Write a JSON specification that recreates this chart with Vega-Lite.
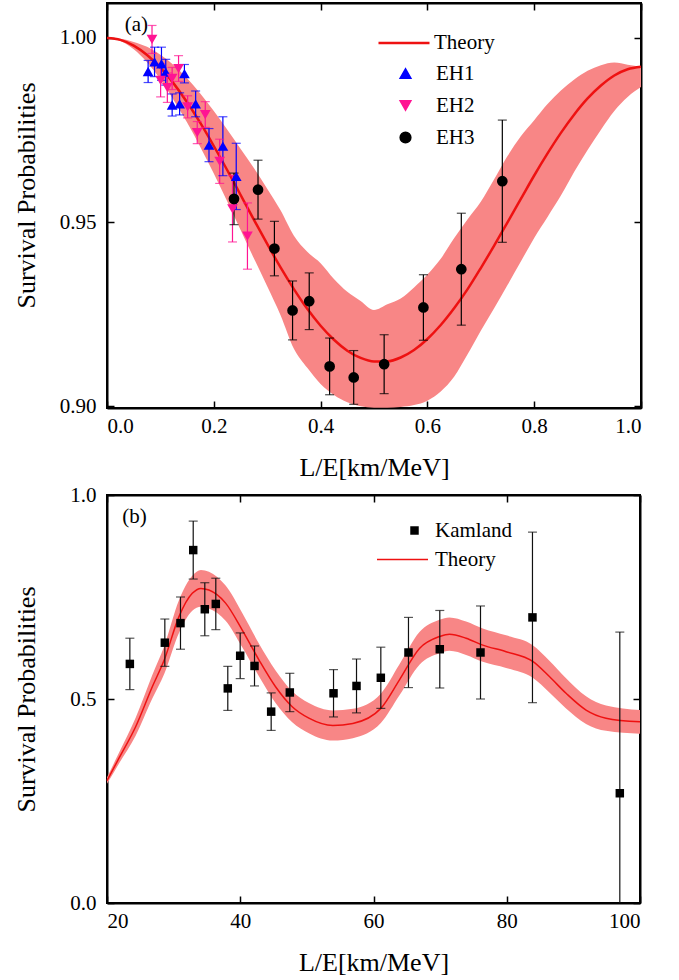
{
  "$schema": "https://vega.github.io/schema/vega-lite/v6.json",
  "background": "white",
  "padding": {"left": 12, "top": 1, "right": 5, "bottom": 2},
  "spacing": 2,
  "resolve": {
    "scale": {"color": "independent", "shape": "independent", "stroke": "independent"},
    "legend": {"color": "independent", "shape": "independent", "stroke": "independent"}
  },
  "config": {
    "view": {"stroke": "black", "strokeWidth": 2},
    "font": "Liberation Serif",
    "axis": {
      "grid": false,
      "domainColor": "black",
      "domainWidth": 2,
      "tickColor": "black",
      "tickWidth": 1.5,
      "tickSize": -7,
      "labelFont": "Liberation Serif",
      "labelFontSize": 21,
      "labelColor": "black",
      "labelPadding": 18,
      "titleFont": "Liberation Serif",
      "titleFontSize": 26,
      "titleFontWeight": "normal",
      "titleColor": "black"
    },
    "legend": {"labelFont": "Liberation Serif", "labelFontSize": 21, "labelColor": "black"}
  },
  "datasets": {
    "curveA": [
      {"x": 0, "p": 1.0, "lo": 1.0, "hi": 1.0},
      {"x": 0.025, "p": 0.99948, "lo": 0.99918, "hi": 0.99978},
      {"x": 0.05, "p": 0.99793, "lo": 0.99693, "hi": 0.99893},
      {"x": 0.075, "p": 0.99539, "lo": 0.99339, "hi": 0.99759},
      {"x": 0.1, "p": 0.99192, "lo": 0.98872, "hi": 0.99542},
      {"x": 0.125, "p": 0.9876, "lo": 0.9831, "hi": 0.9926},
      {"x": 0.15, "p": 0.98254, "lo": 0.97704, "hi": 0.98904},
      {"x": 0.175, "p": 0.97685, "lo": 0.97035, "hi": 0.98485},
      {"x": 0.2, "p": 0.97066, "lo": 0.96316, "hi": 0.98016},
      {"x": 0.225, "p": 0.96414, "lo": 0.95564, "hi": 0.97514},
      {"x": 0.25, "p": 0.95742, "lo": 0.94792, "hi": 0.96992},
      {"x": 0.275, "p": 0.95067, "lo": 0.94017, "hi": 0.96467},
      {"x": 0.3, "p": 0.94405, "lo": 0.93255, "hi": 0.95905},
      {"x": 0.325, "p": 0.93769, "lo": 0.92469, "hi": 0.95319},
      {"x": 0.35, "p": 0.9318, "lo": 0.9156, "hi": 0.9463},
      {"x": 0.375, "p": 0.92643, "lo": 0.91043, "hi": 0.94193},
      {"x": 0.4, "p": 0.92184, "lo": 0.90604, "hi": 0.93884},
      {"x": 0.425, "p": 0.91803, "lo": 0.90303, "hi": 0.93453},
      {"x": 0.45, "p": 0.91507, "lo": 0.90107, "hi": 0.93107},
      {"x": 0.475, "p": 0.91309, "lo": 0.9, "hi": 0.92859},
      {"x": 0.5, "p": 0.91212, "lo": 0.8996, "hi": 0.92612},
      {"x": 0.525, "p": 0.91217, "lo": 0.8996, "hi": 0.92767},
      {"x": 0.55, "p": 0.91321, "lo": 0.8998, "hi": 0.92921},
      {"x": 0.575, "p": 0.91525, "lo": 0.9003, "hi": 0.93225},
      {"x": 0.6, "p": 0.91825, "lo": 0.9015, "hi": 0.93575},
      {"x": 0.625, "p": 0.92204, "lo": 0.904, "hi": 0.94004},
      {"x": 0.65, "p": 0.92658, "lo": 0.908, "hi": 0.94558},
      {"x": 0.675, "p": 0.93171, "lo": 0.914, "hi": 0.95071},
      {"x": 0.7, "p": 0.93751, "lo": 0.9205, "hi": 0.95551},
      {"x": 0.725, "p": 0.94361, "lo": 0.9266, "hi": 0.96161},
      {"x": 0.75, "p": 0.94992, "lo": 0.9329, "hi": 0.96792},
      {"x": 0.775, "p": 0.95628, "lo": 0.9393, "hi": 0.97328},
      {"x": 0.8, "p": 0.96265, "lo": 0.9457, "hi": 0.97765},
      {"x": 0.825, "p": 0.96864, "lo": 0.9514, "hi": 0.98204},
      {"x": 0.85, "p": 0.97422, "lo": 0.9572, "hi": 0.98572},
      {"x": 0.875, "p": 0.97922, "lo": 0.9637, "hi": 0.98872},
      {"x": 0.9, "p": 0.98357, "lo": 0.9696, "hi": 0.99107},
      {"x": 0.925, "p": 0.98709, "lo": 0.9751, "hi": 0.99259},
      {"x": 0.95, "p": 0.98982, "lo": 0.9802, "hi": 0.99332},
      {"x": 0.975, "p": 0.99152, "lo": 0.984, "hi": 0.99272},
      {"x": 1.0, "p": 0.9922, "lo": 0.9867, "hi": 0.9922}
    ],
    "ehA": [
      {"series": "EH1", "x": 0.077, "y": 0.9909, "lo": 0.9879, "hi": 0.9939},
      {"series": "EH1", "x": 0.089, "y": 0.9935, "lo": 0.9895, "hi": 0.9975},
      {"series": "EH1", "x": 0.102, "y": 0.993, "lo": 0.9885, "hi": 0.9975},
      {"series": "EH1", "x": 0.11, "y": 0.9907, "lo": 0.9872, "hi": 0.9942},
      {"series": "EH1", "x": 0.145, "y": 0.9903, "lo": 0.9878, "hi": 0.9928},
      {"series": "EH1", "x": 0.122, "y": 0.9818, "lo": 0.9788, "hi": 0.9848},
      {"series": "EH1", "x": 0.136, "y": 0.9821, "lo": 0.9791, "hi": 0.9851},
      {"series": "EH1", "x": 0.166, "y": 0.9821, "lo": 0.9786, "hi": 0.9856},
      {"series": "EH1", "x": 0.191, "y": 0.9709, "lo": 0.9664, "hi": 0.9754},
      {"series": "EH1", "x": 0.217, "y": 0.9706, "lo": 0.9626, "hi": 0.9786},
      {"series": "EH1", "x": 0.242, "y": 0.9624, "lo": 0.9534, "hi": 0.9714},
      {"series": "EH2", "x": 0.0843, "y": 0.9996, "lo": 0.9958, "hi": 1.0034},
      {"series": "EH2", "x": 0.1004, "y": 0.9885, "lo": 0.984, "hi": 0.993},
      {"series": "EH2", "x": 0.113, "y": 0.9865, "lo": 0.9825, "hi": 0.9905},
      {"series": "EH2", "x": 0.122, "y": 0.989, "lo": 0.986, "hi": 0.992},
      {"series": "EH2", "x": 0.134, "y": 0.9917, "lo": 0.9882, "hi": 0.9952},
      {"series": "EH2", "x": 0.151, "y": 0.9813, "lo": 0.9783, "hi": 0.9843},
      {"series": "EH2", "x": 0.184, "y": 0.9792, "lo": 0.9757, "hi": 0.9827},
      {"series": "EH2", "x": 0.169, "y": 0.9743, "lo": 0.9713, "hi": 0.9773},
      {"series": "EH2", "x": 0.211, "y": 0.9665, "lo": 0.9605, "hi": 0.9725},
      {"series": "EH2", "x": 0.235, "y": 0.9536, "lo": 0.9446, "hi": 0.9626},
      {"series": "EH2", "x": 0.263, "y": 0.9462, "lo": 0.9372, "hi": 0.9552},
      {"series": "EH3", "x": 0.2378, "y": 0.9563, "lo": 0.9493, "hi": 0.9633},
      {"series": "EH3", "x": 0.2828, "y": 0.9588, "lo": 0.9508, "hi": 0.9668},
      {"series": "EH3", "x": 0.3135, "y": 0.9428, "lo": 0.9354, "hi": 0.9502},
      {"series": "EH3", "x": 0.3475, "y": 0.926, "lo": 0.918, "hi": 0.934},
      {"series": "EH3", "x": 0.3787, "y": 0.9285, "lo": 0.9208, "hi": 0.9362},
      {"series": "EH3", "x": 0.4169, "y": 0.9108, "lo": 0.9031, "hi": 0.9185},
      {"series": "EH3", "x": 0.462, "y": 0.9078, "lo": 0.9005, "hi": 0.9151},
      {"series": "EH3", "x": 0.519, "y": 0.9114, "lo": 0.9034, "hi": 0.9194},
      {"series": "EH3", "x": 0.5925, "y": 0.9268, "lo": 0.9179, "hi": 0.9357},
      {"series": "EH3", "x": 0.6635, "y": 0.9372, "lo": 0.922, "hi": 0.9524},
      {"series": "EH3", "x": 0.7403, "y": 0.9611, "lo": 0.9445, "hi": 0.9777}
    ],
    "curveB": [
      {"x": 20.0, "p": 0.3, "lo": 0.292, "hi": 0.308},
      {"x": 21.8, "p": 0.355, "lo": 0.342, "hi": 0.368},
      {"x": 24.3, "p": 0.432, "lo": 0.41, "hi": 0.454},
      {"x": 26.8, "p": 0.53, "lo": 0.501, "hi": 0.559},
      {"x": 28.6, "p": 0.596, "lo": 0.562, "hi": 0.63},
      {"x": 30.8, "p": 0.702, "lo": 0.662, "hi": 0.742},
      {"x": 32.8, "p": 0.759, "lo": 0.716, "hi": 0.802},
      {"x": 34.1, "p": 0.771, "lo": 0.726, "hi": 0.816},
      {"x": 35.3, "p": 0.767, "lo": 0.722, "hi": 0.812},
      {"x": 37.8, "p": 0.735, "lo": 0.692, "hi": 0.778},
      {"x": 40.3, "p": 0.669, "lo": 0.627, "hi": 0.711},
      {"x": 42.8, "p": 0.596, "lo": 0.556, "hi": 0.636},
      {"x": 45.3, "p": 0.53, "lo": 0.49, "hi": 0.57},
      {"x": 47.8, "p": 0.481, "lo": 0.443, "hi": 0.519},
      {"x": 50.3, "p": 0.453, "lo": 0.416, "hi": 0.49},
      {"x": 53.9, "p": 0.435, "lo": 0.398, "hi": 0.472},
      {"x": 56.9, "p": 0.44, "lo": 0.404, "hi": 0.476},
      {"x": 61.1, "p": 0.477, "lo": 0.441, "hi": 0.513},
      {"x": 63.9, "p": 0.547, "lo": 0.509, "hi": 0.585},
      {"x": 66.9, "p": 0.624, "lo": 0.584, "hi": 0.664},
      {"x": 69.9, "p": 0.653, "lo": 0.612, "hi": 0.694},
      {"x": 71.4, "p": 0.659, "lo": 0.618, "hi": 0.7},
      {"x": 73.9, "p": 0.649, "lo": 0.608, "hi": 0.69},
      {"x": 76.4, "p": 0.632, "lo": 0.591, "hi": 0.673},
      {"x": 79.9, "p": 0.616, "lo": 0.576, "hi": 0.656},
      {"x": 83.9, "p": 0.592, "lo": 0.552, "hi": 0.632},
      {"x": 86.4, "p": 0.555, "lo": 0.516, "hi": 0.594},
      {"x": 88.9, "p": 0.514, "lo": 0.477, "hi": 0.551},
      {"x": 91.9, "p": 0.473, "lo": 0.439, "hi": 0.507},
      {"x": 94.9, "p": 0.453, "lo": 0.422, "hi": 0.484},
      {"x": 100.0, "p": 0.444, "lo": 0.415, "hi": 0.473}
    ],
    "kam": [
      {"series": "Kamland", "x": 23.43, "y": 0.586, "lo": 0.523, "hi": 0.649},
      {"series": "Kamland", "x": 28.68, "y": 0.638, "lo": 0.58, "hi": 0.696},
      {"series": "Kamland", "x": 31.03, "y": 0.686, "lo": 0.622, "hi": 0.75},
      {"series": "Kamland", "x": 32.94, "y": 0.865, "lo": 0.794, "hi": 0.936},
      {"series": "Kamland", "x": 34.68, "y": 0.72, "lo": 0.655, "hi": 0.785},
      {"series": "Kamland", "x": 36.33, "y": 0.733, "lo": 0.67, "hi": 0.796},
      {"series": "Kamland", "x": 38.13, "y": 0.526, "lo": 0.472, "hi": 0.58},
      {"series": "Kamland", "x": 39.99, "y": 0.606, "lo": 0.55, "hi": 0.662},
      {"series": "Kamland", "x": 42.14, "y": 0.581, "lo": 0.532, "hi": 0.63},
      {"series": "Kamland", "x": 44.64, "y": 0.469, "lo": 0.423, "hi": 0.515},
      {"series": "Kamland", "x": 47.44, "y": 0.516, "lo": 0.469, "hi": 0.563},
      {"series": "Kamland", "x": 54.0, "y": 0.514, "lo": 0.456, "hi": 0.572},
      {"series": "Kamland", "x": 57.45, "y": 0.532, "lo": 0.466, "hi": 0.598},
      {"series": "Kamland", "x": 61.1, "y": 0.552, "lo": 0.477, "hi": 0.627},
      {"series": "Kamland", "x": 65.25, "y": 0.614, "lo": 0.528, "hi": 0.7},
      {"series": "Kamland", "x": 69.95, "y": 0.622, "lo": 0.527, "hi": 0.717},
      {"series": "Kamland", "x": 76.06, "y": 0.614, "lo": 0.5, "hi": 0.728},
      {"series": "Kamland", "x": 83.86, "y": 0.7, "lo": 0.491, "hi": 0.909},
      {"series": "Kamland", "x": 96.97, "y": 0.269, "lo": -0.126, "hi": 0.664}
    ]
  },
  "vconcat": [
    {
      "width": 534,
      "height": 405,
      "layer": [
        {
          "data": {"name": "curveA"},
          "mark": {"type": "area", "color": "#f88686", "opacity": 1, "interpolate": "monotone"},
          "encoding": {
            "x": {"field": "x", "type": "quantitative", "scale": {"domain": [0, 1], "nice": false, "zero": false},
                  "axis": {"orient": "bottom", "values": [0, 0.2, 0.4, 0.6, 0.8, 1.0], "format": ".1f", "title": "L/E[km/MeV]", "titlePadding": 18, "labelPadding": 14, "labelFont": "Liberation Serif", "labelFontSize": 21}},
            "y": {"field": "lo", "type": "quantitative", "scale": {"domain": [0.8995, 1.0095], "nice": false, "zero": false},
                  "axis": {"orient": "left", "values": [0.9, 0.95, 1.0], "format": ".2f", "title": "Survival Probabilities", "titlePadding": 20, "titleY": 192, "labelFont": "Liberation Serif", "labelFontSize": 21}},
            "y2": {"field": "hi"}
          }
        },
        {
          "data": {"name": "curveA"},
          "mark": {"type": "line", "strokeWidth": 2.5, "interpolate": "monotone"},
          "encoding": {
            "x": {"field": "x", "type": "quantitative", "axis": {"orient": "top", "values": [0, 0.2, 0.4, 0.6, 0.8, 1.0], "labels": false, "title": null}},
            "y": {"field": "p", "type": "quantitative", "axis": {"orient": "right", "values": [0.9, 0.95, 1.0], "labels": false, "title": null}},
            "stroke": {"datum": "Theory", "type": "nominal", "scale": {"domain": ["Theory"], "range": ["#ee1111"]},
                       "legend": {"title": null, "orient": "none", "legendX": 270, "legendY": 13, "symbolType": "stroke", "symbolSize": 2601, "symbolStrokeWidth": 2.5, "labelOffset": 3}}
          }
        },
        {
          "data": {"name": "ehA"},
          "mark": {"type": "rule", "strokeWidth": 1.2},
          "encoding": {
            "x": {"field": "x", "type": "quantitative", "axis": null},
            "y": {"field": "lo", "type": "quantitative", "axis": null},
            "y2": {"field": "hi"},
            "color": {"field": "series", "type": "nominal", "scale": {"domain": ["EH1", "EH2", "EH3"], "range": ["#0000ff", "#ff1493", "#000000"]}}
          }
        },
        {
          "data": {"name": "ehA"},
          "mark": {"type": "tick", "orient": "horizontal", "size": 9, "thickness": 1.2},
          "encoding": {
            "x": {"field": "x", "type": "quantitative", "axis": null},
            "y": {"field": "lo", "type": "quantitative", "axis": null},
            "color": {"field": "series", "type": "nominal"}
          }
        },
        {
          "data": {"name": "ehA"},
          "mark": {"type": "tick", "orient": "horizontal", "size": 9, "thickness": 1.2},
          "encoding": {
            "x": {"field": "x", "type": "quantitative", "axis": null},
            "y": {"field": "hi", "type": "quantitative", "axis": null},
            "color": {"field": "series", "type": "nominal"}
          }
        },
        {
          "data": {"name": "ehA"},
          "mark": {"type": "point", "filled": true, "opacity": 1, "size": 115},
          "encoding": {
            "x": {"field": "x", "type": "quantitative", "axis": null},
            "y": {"field": "y", "type": "quantitative", "axis": null},
            "color": {"field": "series", "type": "nominal",
                      "legend": {"title": null, "orient": "none", "legendX": 288, "legendY": 60, "symbolSize": 115, "rowPadding": 10, "labelOffset": 20, "symbolOpacity": 1,
                                 "encode": {"symbols": {"update": {"opacity": {"value": 1}, "fillOpacity": {"value": 1}}}}}},
            "shape": {"field": "series", "type": "nominal", "scale": {"domain": ["EH1", "EH2", "EH3"], "range": ["triangle-up", "triangle-down", "circle"]}}
          }
        },
        {
          "data": {"values": [{}]},
          "mark": {"type": "text", "fontSize": 21, "font": "Liberation Serif", "align": "center", "baseline": "middle", "color": "black"},
          "encoding": {
            "x": {"datum": 0.055, "type": "quantitative", "axis": null},
            "y": {"datum": 1.0035, "type": "quantitative", "axis": null},
            "text": {"value": "(a)"}
          }
        }
      ],
      "resolve": {"axis": {"x": "independent", "y": "independent"}}
    },
    {
      "width": 533,
      "height": 408,
      "layer": [
        {
          "data": {"name": "curveB"},
          "mark": {"type": "area", "color": "#f88686", "opacity": 1, "interpolate": "monotone"},
          "encoding": {
            "x": {"field": "x", "type": "quantitative", "scale": {"domain": [20, 100], "nice": false, "zero": false},
                  "axis": {"orient": "bottom", "values": [20, 40, 60, 80, 100], "format": "d", "title": "L/E[km/MeV]", "titlePadding": 18, "labelPadding": 14, "labelFont": "Liberation Serif", "labelFontSize": 21}},
            "y": {"field": "lo", "type": "quantitative", "scale": {"domain": [0, 1], "nice": false, "zero": false},
                  "axis": {"orient": "left", "values": [0, 0.5, 1.0], "format": ".1f", "title": "Survival Probabilities", "titlePadding": 30, "labelFont": "Liberation Serif", "labelFontSize": 21}},
            "y2": {"field": "hi"}
          }
        },
        {
          "data": {"name": "curveB"},
          "mark": {"type": "line", "strokeWidth": 1.5, "interpolate": "monotone"},
          "encoding": {
            "x": {"field": "x", "type": "quantitative", "axis": {"orient": "top", "values": [20, 40, 60, 80, 100], "labels": false, "title": null}},
            "y": {"field": "p", "type": "quantitative", "axis": {"orient": "right", "values": [0, 0.5, 1.0], "labels": false, "title": null}},
            "stroke": {"datum": "Theory", "type": "nominal", "scale": {"domain": ["Theory"], "range": ["#ee1111"]},
                       "legend": {"title": null, "orient": "none", "legendX": 269, "legendY": 38, "symbolType": "stroke", "symbolSize": 2601, "symbolStrokeWidth": 1.5, "labelOffset": 6}}
          }
        },
        {
          "data": {"name": "kam"},
          "mark": {"type": "rule", "strokeWidth": 1.2, "clip": true, "color": "#111111"},
          "encoding": {
            "x": {"field": "x", "type": "quantitative", "axis": null},
            "y": {"field": "lo", "type": "quantitative", "axis": null},
            "y2": {"field": "hi"}
          }
        },
        {
          "data": {"name": "kam"},
          "transform": [{"filter": "datum.lo >= 0"}],
          "mark": {"type": "tick", "orient": "horizontal", "size": 9, "thickness": 1.2, "color": "#111111"},
          "encoding": {
            "x": {"field": "x", "type": "quantitative", "axis": null},
            "y": {"field": "lo", "type": "quantitative", "axis": null}
          }
        },
        {
          "data": {"name": "kam"},
          "mark": {"type": "tick", "orient": "horizontal", "size": 9, "thickness": 1.2, "color": "#111111"},
          "encoding": {
            "x": {"field": "x", "type": "quantitative", "axis": null},
            "y": {"field": "hi", "type": "quantitative", "axis": null}
          }
        },
        {
          "data": {"name": "kam"},
          "mark": {"type": "square", "filled": true, "opacity": 1, "size": 72},
          "encoding": {
            "x": {"field": "x", "type": "quantitative", "axis": null},
            "y": {"field": "y", "type": "quantitative", "axis": null},
            "color": {"field": "series", "type": "nominal", "scale": {"domain": ["Kamland"], "range": ["#000000"]},
                      "legend": {"title": null, "orient": "none", "legendX": 297, "legendY": 25, "symbolSize": 72, "labelOffset": 10, "symbolOpacity": 1,
                                 "encode": {"symbols": {"update": {"opacity": {"value": 1}, "fillOpacity": {"value": 1}}}}}}
          }
        },
        {
          "data": {"values": [{}]},
          "mark": {"type": "text", "fontSize": 21, "font": "Liberation Serif", "align": "center", "baseline": "middle", "color": "black"},
          "encoding": {
            "x": {"datum": 24.13, "type": "quantitative", "axis": null},
            "y": {"datum": 0.947, "type": "quantitative", "axis": null},
            "text": {"value": "(b)"}
          }
        }
      ],
      "resolve": {"axis": {"x": "independent", "y": "independent"}}
    }
  ]
}
